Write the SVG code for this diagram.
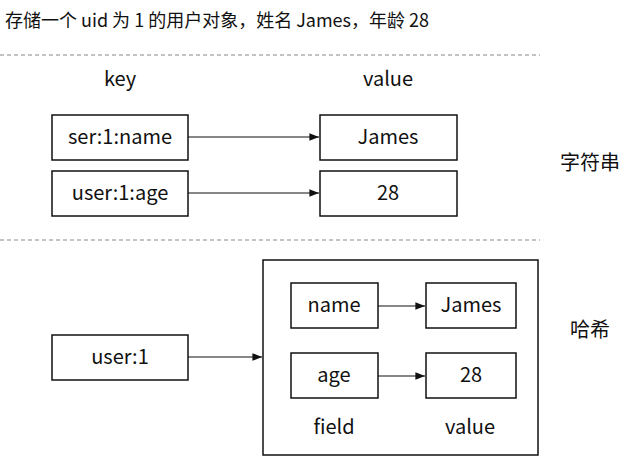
<svg xmlns="http://www.w3.org/2000/svg" width="630" height="459" viewBox="0 0 630 459">
<defs>
<style>
text{font-family:"Noto Sans CJK SC","Noto Sans",sans-serif;fill:#111;font-size:20px}
.c{text-anchor:middle}
.b{fill:#fff;stroke:#111;stroke-width:1.5}
.d{stroke:#888;stroke-width:1.2;stroke-dasharray:4 3}
.a{stroke:#111;stroke-width:1.2;fill:none;marker-end:url(#m)}
</style>
<marker id="m" viewBox="0 0 10 10" refX="10" refY="5" markerWidth="8" markerHeight="8" orient="auto"><path d="M0,1 L10,5 L0,9 z" fill="#111"/></marker>
</defs>
<rect width="630" height="459" fill="#fff"/>
<text x="5" y="27" style="font-size:18px">存储一个 uid 为 1 的用户对象，姓名 James，年龄 28</text>
<line class="d" x1="0" y1="55" x2="540" y2="55"/>
<line class="d" x1="0" y1="240" x2="540" y2="240"/>
<text class="c" x="120" y="86">key</text>
<text class="c" x="388" y="86">value</text>
<text x="560" y="170">字符串</text>
<text x="570" y="337">哈希</text>
<g id="hash"><rect x="263" y="260" width="275" height="195" fill="none" stroke="#111" stroke-width="1.5"/>
<text class="c" x="334" y="434">field</text><text class="c" x="470" y="434">value</text></g>
<g id="connectors">
<line class="a" x1="188" y1="137" x2="319" y2="137"/>
<line class="a" x1="188" y1="193" x2="319" y2="193"/>
<line class="a" x1="188" y1="357" x2="262" y2="357"/>
<line class="a" x1="378" y1="306" x2="425" y2="306"/>
<line class="a" x1="378" y1="376" x2="425" y2="376"/>
</g>
<g id="n1"><rect class="b" x="52" y="115" width="136" height="45"/><text class="c" x="120" y="144">ser:1:name</text></g>
<g id="n2"><rect class="b" x="320" y="115" width="137" height="45"/><text class="c" x="388" y="144">James</text></g>
<g id="n3"><rect class="b" x="52" y="171" width="136" height="45"/><text class="c" x="120" y="200">user:1:age</text></g>
<g id="n4"><rect class="b" x="320" y="171" width="137" height="45"/><text class="c" x="388" y="200">28</text></g>
<g id="n5"><rect class="b" x="52" y="335" width="136" height="45"/><text class="c" x="120" y="364">user:1</text></g>
<g id="n6"><rect class="b" x="291" y="283" width="87" height="45"/><text class="c" x="334" y="312">name</text></g>
<g id="n7"><rect class="b" x="426" y="283" width="90" height="45"/><text class="c" x="471" y="312">James</text></g>
<g id="n8"><rect class="b" x="291" y="353" width="87" height="45"/><text class="c" x="334" y="382">age</text></g>
<g id="n9"><rect class="b" x="426" y="353" width="90" height="45"/><text class="c" x="471" y="382">28</text></g>
</svg>
